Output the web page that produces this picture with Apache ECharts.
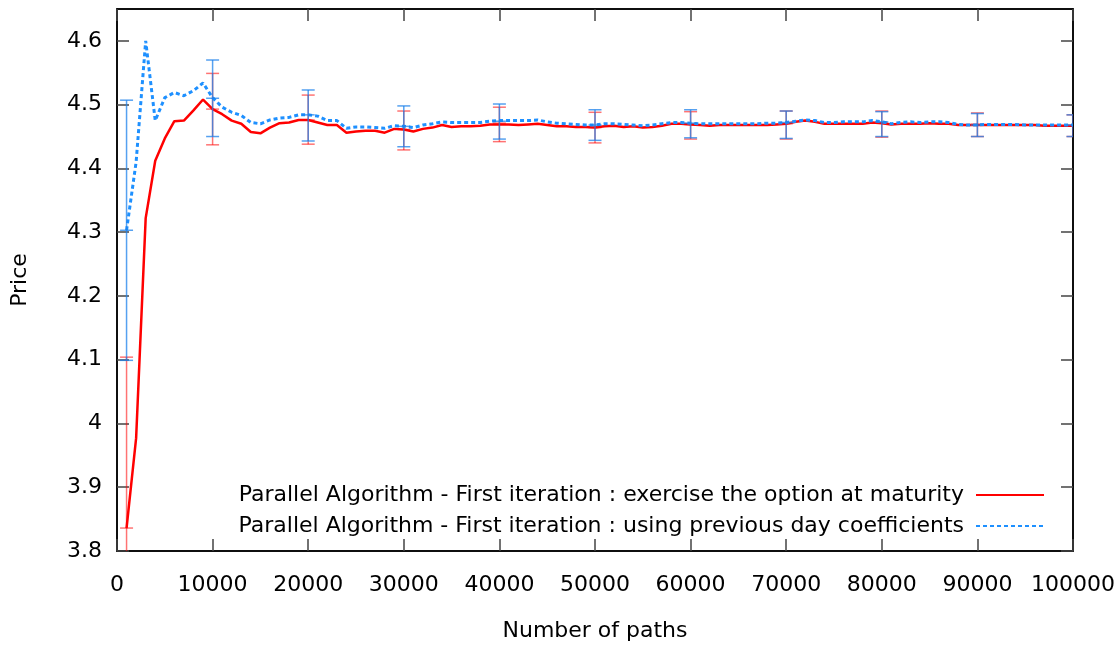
<!DOCTYPE html>
<html>
<head>
<meta charset="utf-8">
<script src="https://cdn.jsdelivr.net/npm/echarts@6/dist/echarts.min.js"></script>
<style>
html,body{margin:0;padding:0;background:#fff;}
#chart{width:1120px;height:647px;}
</style>
</head>
<body>
<div id="chart"></div>
<script>
// Number of paths (x values)
const paths = [1000,2000,3000,4000,5000,6000,7000,8000,9000,10000,
  11000,12000,13000,14000,15000,16000,17000,18000,19000,20000,
  21000,22000,23000,24000,25000,26000,27000,28000,29000,30000,
  31000,32000,33000,34000,35000,36000,37000,38000,39000,40000,
  41000,42000,43000,44000,45000,46000,47000,48000,49000,50000,
  51000,52000,53000,54000,55000,56000,57000,58000,59000,60000,
  61000,62000,63000,64000,65000,66000,67000,68000,69000,70000,
  71000,72000,73000,74000,75000,76000,77000,78000,79000,80000,
  81000,82000,83000,84000,85000,86000,87000,88000,89000,90000,
  91000,92000,93000,94000,95000,96000,97000,98000,99000,100000];

// Parallel Algorithm - First iteration : exercise the option at maturity
const priceMaturity = [3.836,3.977,4.322,4.412,4.447,4.474,4.475,4.491,4.508,4.493,
  4.485,4.475,4.470,4.457,4.455,4.464,4.471,4.472,4.476,4.476,
  4.472,4.468,4.468,4.456,4.458,4.459,4.459,4.456,4.462,4.461,
  4.458,4.462,4.464,4.468,4.465,4.466,4.466,4.467,4.469,4.469,
  4.469,4.468,4.469,4.470,4.468,4.466,4.466,4.465,4.465,4.464,
  4.466,4.467,4.465,4.466,4.464,4.465,4.467,4.470,4.470,4.469,
  4.468,4.467,4.468,4.468,4.468,4.468,4.468,4.468,4.469,4.470,
  4.473,4.475,4.473,4.470,4.470,4.470,4.470,4.470,4.472,4.471,
  4.469,4.470,4.470,4.470,4.471,4.470,4.470,4.468,4.468,4.468,
  4.468,4.468,4.468,4.468,4.468,4.468,4.467,4.467,4.467,4.467];

// Parallel Algorithm - First iteration : using previous day coefficients
const pricePrevDay = [4.303,4.410,4.600,4.475,4.511,4.519,4.514,4.522,4.534,4.511,
  4.496,4.488,4.483,4.472,4.470,4.476,4.479,4.480,4.484,4.484,
  4.482,4.475,4.475,4.463,4.465,4.465,4.464,4.463,4.467,4.466,
  4.464,4.468,4.470,4.473,4.472,4.472,4.472,4.472,4.474,4.475,
  4.475,4.475,4.475,4.476,4.473,4.471,4.470,4.469,4.468,4.468,
  4.470,4.470,4.469,4.468,4.467,4.468,4.470,4.472,4.472,4.471,
  4.470,4.470,4.470,4.470,4.470,4.470,4.470,4.471,4.471,4.472,
  4.474,4.476,4.475,4.472,4.472,4.473,4.473,4.473,4.475,4.473,
  4.470,4.472,4.473,4.472,4.473,4.473,4.472,4.469,4.468,4.468,
  4.469,4.469,4.469,4.469,4.468,4.468,4.468,4.468,4.468,4.468];

// Error bars
const errPaths = [1000,10000,20000,30000,40000,50000,60000,70000,80000,90000,100000];
const matMid  = [3.836,4.493,4.476,4.461,4.471,4.464,4.469,4.470,4.471,4.469,4.467];
const matLow  = [3.568,4.437,4.438,4.429,4.442,4.440,4.446,4.446,4.449,4.450,4.450];
const matHigh = [4.104,4.549,4.515,4.490,4.496,4.488,4.489,4.490,4.490,4.487,4.484];
const prvMid  = [4.303,4.510,4.484,4.466,4.474,4.468,4.471,4.472,4.473,4.468,4.468];
const prvLow  = [4.099,4.450,4.443,4.434,4.446,4.444,4.448,4.447,4.450,4.450,4.450];
const prvHigh = [4.507,4.570,4.523,4.498,4.501,4.492,4.492,4.490,4.489,4.486,4.484];

// Tick labels
const yTicks = [3.8,3.9,4,4.1,4.2,4.3,4.4,4.5,4.6];
const xTicks = [0,10000,20000,30000,40000,50000,60000,70000,80000,90000,100000];

const nameA = 'Parallel Algorithm - First iteration : exercise the option at maturity';
const nameB = 'Parallel Algorithm - First iteration : using previous day coefficients';

const FONT = 'DejaVu Sans';
const FS = 22;

function lineData(xs, ys){ return xs.map((x,i)=>[x, ys[i]]); }
function errData(xs, mid, lo, hi){ return xs.map((x,i)=>[x, mid[i], lo[i], hi[i]]); }

function makeErrRender(color){
  return function(params, api){
    const cs = params.coordSys;
    const top = cs.y, bot = cs.y + cs.height;
    const xv = api.value(0);
    const pm = api.coord([xv, api.value(1)]);
    const pl = api.coord([xv, api.value(2)]);
    const ph = api.coord([xv, api.value(3)]);
    const cx = pm[0];
    const clamp = v => Math.max(top, Math.min(bot, v));
    const w = 6.5;
    const style = {stroke: color, lineWidth: 1.5, fill: null};
    const children = [];
    children.push({type:'line', shape:{x1:cx, y1:clamp(pl[1]), x2:cx, y2:clamp(ph[1])}, style});
    [pl[1], ph[1], pm[1]].forEach(y => {
      if (y >= top - 0.5 && y <= bot + 0.5) {
        children.push({type:'line', shape:{x1:cx-w, y1:y, x2:cx+w, y2:y}, style});
      }
    });
    return {type:'group', children};
  };
}

const chart = echarts.init(document.getElementById('chart'), null, {renderer:'canvas'});

const xTick = {show:true, inside:true, length:12, customValues:xTicks, lineStyle:{color:'#444', width:1.5}};
const yTick = {show:true, inside:true, length:12, customValues:yTicks, lineStyle:{color:'#444', width:1.5}};
const axisLineStyle = {show:true, onZero:false, lineStyle:{color:'#000', width:1.5}};

chart.setOption({
  animation:false,
  backgroundColor:'#fff',
  textStyle:{fontFamily:FONT},
  grid:{left:117, right:47, top:9, bottom:96, show:true, borderColor:'#000', borderWidth:1.5},
  legend:{
    orient:'vertical', right:70, top:479, align:'right',
    itemWidth:68, itemHeight:14, itemGap:9,
    itemStyle:{color:'rgba(0,0,0,0)', borderColor:'rgba(0,0,0,0)', borderWidth:0},
    textStyle:{fontFamily:FONT, fontSize:FS, color:'#000', padding:[0,7,0,0]},
    data:[nameA, nameB]
  },
  xAxis:[{
    type:'value', position:'bottom', min:0, max:100000, interval:10000,
    name:'Number of paths', nameLocation:'middle', nameGap:69,
    nameTextStyle:{fontFamily:FONT, fontSize:FS, color:'#000'},
    axisLine:axisLineStyle, axisTick:xTick,
    axisLabel:{fontFamily:FONT, fontSize:FS, color:'#000', margin:23, customValues:xTicks,
      formatter: v => String(v)},
    splitLine:{show:false}
  },{
    type:'value', position:'top', min:0, max:100000, interval:10000,
    axisLine:axisLineStyle, axisTick:xTick, axisLabel:{show:false}, splitLine:{show:false}
  }],
  yAxis:[{
    type:'value', position:'left', min:3.8, max:4.65, interval:0.1,
    name:'Price', nameLocation:'middle', nameGap:86,
    nameTextStyle:{fontFamily:FONT, fontSize:FS, color:'#000'},
    axisLine:axisLineStyle, axisTick:yTick,
    axisLabel:{fontFamily:FONT, fontSize:FS, color:'#000', margin:15, customValues:yTicks,
      formatter: v => String(Math.round(v*10)/10)},
    splitLine:{show:false}
  },{
    type:'value', position:'right', min:3.8, max:4.65, interval:0.1,
    axisLine:axisLineStyle, axisTick:yTick, axisLabel:{show:false}, splitLine:{show:false}
  }],
  series:[
    {
      name:nameA, type:'line', data:lineData(paths, priceMaturity),
      showSymbol:false, symbol:'none', clip:true, z:2,
      lineStyle:{color:'#ff0000', width:2.5}, itemStyle:{color:'#ff0000'}
    },
    {
      name:nameA+' err', type:'custom', data:errData(errPaths, matMid, matLow, matHigh),
      renderItem:makeErrRender('rgba(255,0,0,0.55)'), clip:true, z:3,
      encode:{x:0, y:[1,2,3]}
    },
    {
      name:nameB, type:'line', data:lineData(paths, pricePrevDay),
      showSymbol:false, symbol:'none', clip:true, z:4,
      lineStyle:{color:'#1e90ff', width:3, type:[4,3]}, itemStyle:{color:'#1e90ff'}
    },
    {
      name:nameB+' err', type:'custom', data:errData(errPaths, prvMid, prvLow, prvHigh),
      renderItem:makeErrRender('rgba(30,130,235,0.75)'), clip:true, z:5,
      encode:{x:0, y:[1,2,3]}
    }
  ]
});
</script>
</body>
</html>
